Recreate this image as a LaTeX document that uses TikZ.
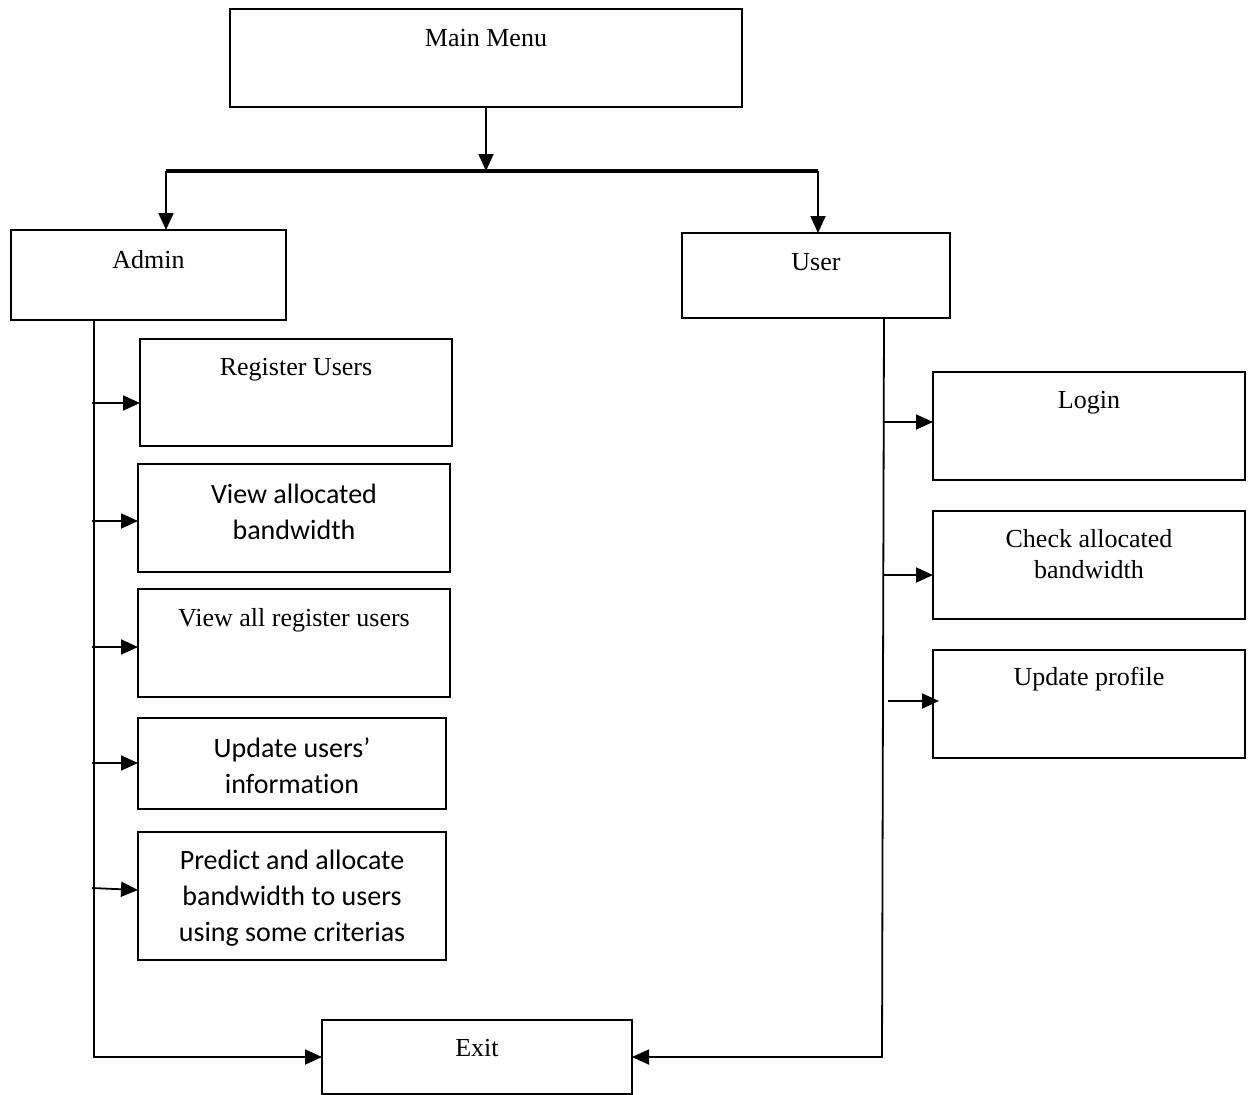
\documentclass[tikz,border=0pt]{standalone}
\usepackage{fontspec}
\setmainfont{Liberation Serif}
\newfontfamily\calfont[Ligatures=NoCommon]{Carlito}
\usetikzlibrary{arrows.meta}
\tikzset{
  box/.style={draw, line width=1.8pt, inner sep=0pt, outer sep=0pt},
  tm/.style={anchor=center, align=center, inner sep=0pt, font=\fontsize{26}{30}\selectfont},
  cb/.style={anchor=center, align=center, inner sep=0pt, font=\calfont\fontsize{28}{36}\selectfont},
  conn/.style={line width=1.8pt},
  arr/.style={line width=1.8pt, -{Triangle[length=17pt,width=15pt]}},
  bar/.style={line width=4pt}
}
\begin{document}
\begin{tikzpicture}[x=1pt,y=-1pt]
\useasboundingbox (0,0) rectangle (1248,1095);
% boxes
\node[box, minimum width=512pt, minimum height=98pt, label={[tm, yshift=-29pt]north:Main Menu}] (main) at (486,58) {};
\node[box, minimum width=275pt, minimum height=90pt, label={[tm, yshift=-30pt]north:Admin}] (admin) at (148.5,275) {};
\node[box, minimum width=268pt, minimum height=85pt, label={[tm, yshift=-29pt]north:User}] (user) at (816,275.5) {};
\node[box, minimum width=312pt, minimum height=107pt, label={[tm, yshift=-31pt]north:Register Users}] (reg) at (296,392.5) {};
\node[box, minimum width=312pt, minimum height=108pt, label={[cb, yshift=-48pt]north:View allocated\\bandwidth}] (vab) at (294,518) {};
\node[box, minimum width=312pt, minimum height=108pt, label={[tm, yshift=-31pt]north:View all register users}] (var) at (294,643) {};
\node[box, minimum width=308pt, minimum height=91pt, label={[cb, yshift=-48pt]north:Update users’\\informat\kern0pt ion}] (uui) at (292,763.5) {};
\node[box, minimum width=308pt, minimum height=128pt, label={[cb, yshift=-66pt]north:Predict and allocate\\bandwidth to users\\using some criterias}] (pred) at (292,896) {};
\node[box, minimum width=312pt, minimum height=108pt, label={[tm, yshift=-31pt]north:Login}] (login) at (1089,426) {};
\node[box, minimum width=312pt, minimum height=108pt, label={[tm, yshift=-43pt, font=\fontsize{26}{31}\selectfont]north:Check allocated\\bandwidth}] (chk) at (1089,565) {};
\node[box, minimum width=312pt, minimum height=108pt, label={[tm, yshift=-29pt]north:Update profile}] (upd) at (1089,704) {};
\node[box, minimum width=310pt, minimum height=74pt, label={[tm, yshift=-28pt]north:Exit}] (exit) at (477,1057) {};
% top connectors
\coordinate (barM) at (486,171);
\coordinate (barL) at (166,171);
\coordinate (barR) at (818,171);
\draw[arr] (main.south) -- (barM);
\draw[bar] (barL) -- (barR);
\draw[arr] (barL) -- (barL |- admin.north);
\draw[arr] (barR) -- (barR |- user.north);
% admin trunk
\coordinate (aTop) at (94,320);
\coordinate (aBot) at (94,1057);
\draw[arr] (aTop) -- (aBot) -- (exit.west);
\coordinate (a1) at (92,403);
\coordinate (a2) at (92,521);
\coordinate (a3) at (92,647);
\coordinate (a4) at (92,763);
\coordinate (a5) at (92,888);
\draw[arr] (a1) -- (a1 -| reg.west);
\draw[arr] (a2) -- (a2 -| vab.west);
\draw[arr] (a3) -- (a3 -| var.west);
\draw[arr] (a4) -- (a4 -| uui.west);
\draw[arr] (a5) -- ([yshift=-2pt]a5 -| pred.west);
% user trunk
\coordinate (uTop) at (884,318);
\coordinate (uBot) at (882,1057);
\draw[arr] (uTop) -- (uBot) -- (exit.east);
\coordinate (u1) at (884,422);
\coordinate (u2) at (884,575);
\coordinate (u3) at (888,701);
\draw[arr] (u1) -- (u1 -| login.west);
\draw[arr] (u2) -- (u2 -| chk.west);
\draw[arr] (u3) -- ([xshift=6pt]u3 -| upd.west);
\end{tikzpicture}
\end{document}
